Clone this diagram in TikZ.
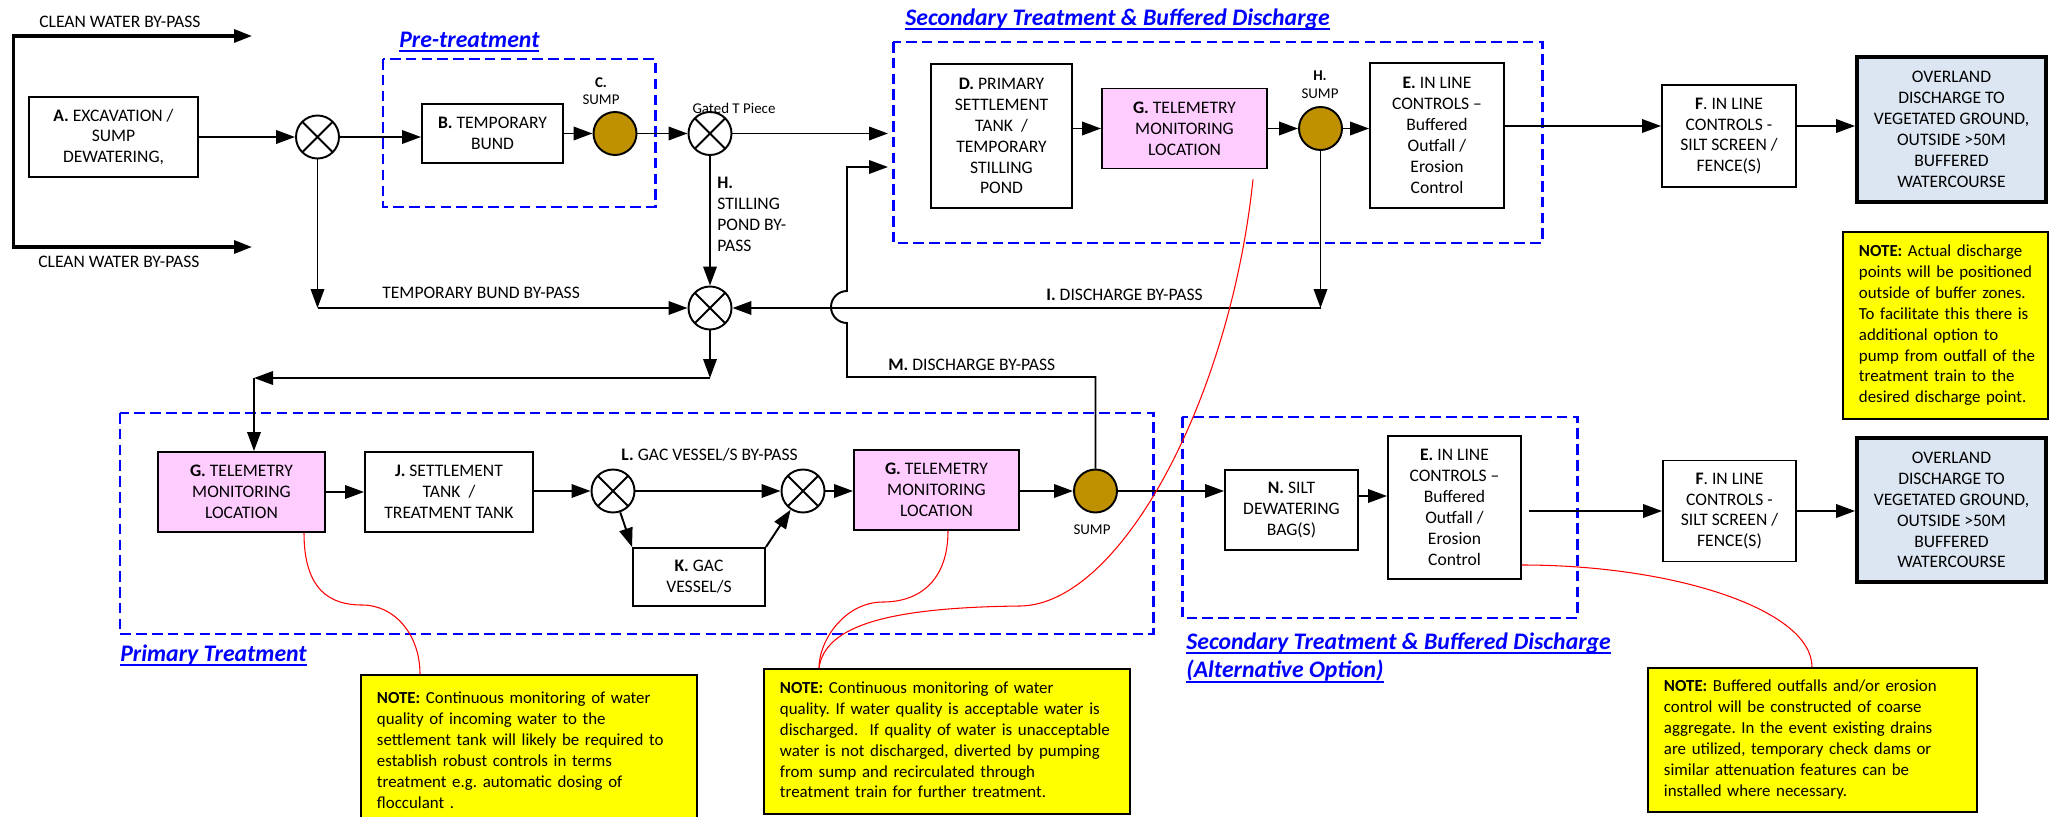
\documentclass[tikz,border=0pt]{standalone}
\usepackage{fontspec}
\setmainfont{Carlito}
\usetikzlibrary{positioning}
\usetikzlibrary{calc}
\usetikzlibrary{arrows.meta}

\definecolor{sumpgold}{RGB}{191,144,0}
\definecolor{telepink}{RGB}{255,204,255}
\definecolor{outfallblue}{RGB}{220,230,242}
\definecolor{noteyellow}{RGB}{255,255,0}
\definecolor{stageblue}{RGB}{0,0,255}

\newcommand{\boxfont}{\fontsize{10}{11.9}\selectfont}
\newcommand{\notefont}{\fontsize{9.6}{11.9}\selectfont}
\newcommand{\tagfont}{\fontsize{8.5}{10}\selectfont}
\newcommand{\stagefont}{\fontsize{13.5}{16.4}\selectfont\bfseries\itshape}
\newlength{\stageulwd}
\newcommand{\stageul}[1]{\settowidth{\stageulwd}{#1}\rlap{\rule[-2.6pt]{\stageulwd}{1pt}}#1}
\frenchspacing

\begin{document}
\begin{tikzpicture}[
        flow/.style={
            -{Triangle[length=3.8mm,width=2.7mm]},
            line width=1.1pt,
        },
        cleanflow/.style={
            {Triangle[length=3.6mm,width=2.6mm]}-{Triangle[length=3.6mm,width=2.6mm]},
            line width=1.8pt,
        },
        unit/.style={
            draw,
            line width=1.1pt,
            align=center,
            inner sep=0pt,
            font=\boxfont,
        },
        telemetry/.style={
            unit,
            fill=telepink,
            minimum height=1.6cm,
        },
        outfall/.style={
            unit,
            fill=outfallblue,
            line width=2.2pt,
            minimum width=3.78cm,
            minimum height=2.9cm,
        },
        mixer/.style={
            draw,
            circle,
            line width=1.1pt,
            minimum size=8.6mm,
            inner sep=0pt,
            path picture={
                \draw[line width=1.1pt]
                    (path picture bounding box.north west) -- (path picture bounding box.south east)
                    (path picture bounding box.north east) -- (path picture bounding box.south west);
            },
        },
        sump/.style={
            draw,
            circle,
            fill=sumpgold,
            line width=1.1pt,
            minimum size=8.6mm,
            inner sep=0pt,
        },
        stage/.style={
            draw=stageblue,
            line width=1.7pt,
            dash pattern=on 6pt off 3pt,
        },
        stagelabel/.style={
            text=stageblue,
            font=\stagefont,
            align=left,
            inner sep=0pt,
            anchor=west,
        },
        note/.style={
            draw,
            fill=noteyellow,
            line width=1.1pt,
            align=left,
            inner xsep=3.2mm,
            inner ysep=0pt,
            anchor=north west,
            font=\notefont,
        },
        tag/.style={
            font=\tagfont,
            inner sep=0pt,
            align=center,
        },
        flowlabel/.style={
            font=\boxfont,
            inner sep=0pt,
            anchor=west,
        },
        callout/.style={
            red,
            line width=0.6pt,
        },
    ]
    \useasboundingbox (0,0) rectangle (40.98,-16.34);

    % Stage frames.
    \draw[stage] (7.66,-1.18) rectangle (13.10,-4.14);
    \draw[stage] (17.86,-0.84) rectangle (30.84,-4.86);
    \draw[stage] (2.40,-8.26) rectangle (23.06,-12.68);
    \draw[stage] (23.64,-8.34) rectangle (31.54,-12.36);

    \node[stagelabel] (pretitle) at (7.98,-0.84) {\stageul{Pre-treatment}};
    \node[stagelabel] (sectitle) at (18.10,-0.38) {\stageul{Secondary Treatment \& Buffered Discharge}};
    \node[stagelabel] (primtitle) at (2.40,-13.10) {\stageul{Primary Treatment}};
    \node[stagelabel] (alttitle) at (23.72,-13.15) {\stageul{Secondary Treatment \& Buffered Discharge}\\\stageul{(Alternative Option)}};

    % Top train.
    \node[unit, minimum width=3.38cm, minimum height=1.6cm] (exc) at (2.27,-2.74)
        {\textbf{A.} EXCAVATION /\\SUMP\\DEWATERING,};
    \node[mixer] (m1) at (6.35,-2.74) {};
    \node[unit, minimum width=2.82cm, minimum height=1.18cm] (bund) at (9.85,-2.67)
        {\textbf{B.} TEMPORARY\\BUND};
    \node[sump] (sumpc) at (12.30,-2.67) {};
    \node[tag] (sumpctag) at (12.02,-1.82) {\textbf{C.}\\SUMP};
    \node[mixer] (m2) at (14.20,-2.67) {};
    \node[tag, anchor=south] (gatetag) at (14.68,-2.28) {Gated T Piece};

    \node[unit, minimum width=2.82cm, minimum height=2.88cm] (pst) at (20.03,-2.72)
        {\textbf{D.} PRIMARY\\SETTLEMENT\\TANK~~/\\TEMPORARY\\STILLING\\POND};
    \node[telemetry, minimum width=3.3cm] (tele3) at (23.69,-2.57)
        {\textbf{G.} TELEMETRY\\MONITORING\\LOCATION};
    \node[sump] (sumph) at (26.41,-2.57) {};
    \node[tag] (sumphtag) at (26.40,-1.69) {\textbf{H.}\\SUMP};
    \node[unit, minimum width=2.68cm, minimum height=2.9cm] (ctrl) at (28.74,-2.71)
        {\textbf{E.} IN LINE\\CONTROLS --\\Buffered\\Outfall /\\Erosion\\Control};
    \node[unit, minimum width=2.68cm, minimum height=2.04cm] (fence) at (34.58,-2.72)
        {\textbf{F}. IN LINE\\CONTROLS -\\SILT SCREEN /\\FENCE(S)};
    \node[outfall] (over) at (39.03,-2.59)
        {OVERLAND\\DISCHARGE TO\\VEGETATED GROUND,\\OUTSIDE >50M\\BUFFERED\\WATERCOURSE};

    \coordinate (cwtop) at (5.04,-0.72);
    \coordinate (cwtopl) at (0.27,-0.72);
    \coordinate (cwbotl) at (0.27,-4.94);
    \coordinate (cwbot) at (5.04,-4.94);
    \coordinate (sin1) at (17.76,-2.67);
    \coordinate (sin2) at (17.76,-3.34);
    \coordinate (outtop) at (30.08,-2.52);

    \draw[cleanflow] (cwtop) -- (cwtopl) -- (cwbotl) -- (cwbot);
    \node[flowlabel] (cwlabel1) at (0.78,-0.44) {CLEAN WATER BY-PASS};
    \node[flowlabel] (cwlabel2) at (0.76,-5.24) {CLEAN WATER BY-PASS};

    \draw[flow] (exc) -- (m1);
    \draw[flow] (m1) -- (bund.west |- m1);
    \draw[flow] (bund) -- (sumpc);
    \draw[flow] (sumpc) -- (m2);
    \draw[flow] (m2) -- (sin1);
    \draw[flow] (pst.east |- tele3) -- (tele3);
    \draw[flow] (tele3) -- (sumph);
    \draw[flow] (sumph) -- (ctrl.west |- sumph);
    \draw[flow] (outtop) -- (fence.west |- outtop);
    \draw[flow] (fence.east |- outtop) -- (over.west |- outtop);

    % By-pass junction.
    \node[mixer] (m3) at (14.20,-6.16) {};
    \coordinate (tbp) at (m1 |- m3);
    \coordinate (ibp) at (sumph |- m3);
    \coordinate (m3out) at (14.20,-7.56);
    \coordinate (pturn) at (5.08,-7.56);

    \draw[flow] (m1) -- (tbp);
    \draw[flow] (tbp) -- (m3);
    \draw[flow] (m2) -- (m3);
    \draw[flow] (sumph) -- (ibp);
    \draw[flow] (ibp) -- (m3);
    \draw[flow] (m3) -- (m3out);
    \draw[flow] (m3out) -- (pturn);

    \node[flowlabel] (tblabel) at (7.64,-5.86) {TEMPORARY BUND BY-PASS};
    \node[flowlabel] (ilabel) at (20.92,-5.90) {\textbf{I.} DISCHARGE BY-PASS};
    \node[flowlabel, anchor=north west, align=left] (hlabel) at (14.34,-3.54)
        {\textbf{H.}\\STILLING\\POND BY-\\PASS};

    % Primary train.
    \node[telemetry, minimum width=3.34cm] (tele1) at (4.83,-9.84)
        {\textbf{G.} TELEMETRY\\MONITORING\\LOCATION};
    \node[unit, minimum width=3.36cm, minimum height=1.6cm] (settle) at (8.98,-9.84)
        {\textbf{J.} SETTLEMENT\\TANK~~/\\TREATMENT TANK};
    \node[mixer] (ml1) at (12.26,-9.82) {};
    \node[mixer] (ml2) at (16.06,-9.82) {};
    \node[unit, minimum width=2.64cm, minimum height=1.16cm] (gac) at (13.98,-11.54)
        {\textbf{K.} GAC\\VESSEL/S};
    \node[telemetry, minimum width=3.3cm] (tele2) at (18.73,-9.80)
        {\textbf{G.} TELEMETRY\\MONITORING\\LOCATION};
    \node[sump] (sumpp) at (21.91,-9.82) {};
    \node[tag] (sumpptag) at (21.84,-10.60) {SUMP};
    \node[flowlabel] (llabel) at (12.42,-9.10) {\textbf{L.} GAC VESSEL/S BY-PASS};

    \draw[flow] (pturn) -- (pturn |- tele1.north);
    \draw[flow] (tele1) -- (settle);
    \draw[flow] (settle.east |- ml1) -- (ml1);
    \draw[flow] (ml1) -- (ml2);
    \draw[flow] (ml1) -- (gac.north west);
    \draw[flow] (gac.north east) -- (ml2);
    \draw[flow] (ml2) -- (tele2.west |- ml2);
    \draw[flow] (tele2.east |- sumpp) -- (sumpp);

    % Discharge by-pass back to secondary treatment.
    \coordinate (mturn) at (16.94,-7.54);
    \coordinate (mhop) at (16.94,-6.46);
    \draw[flow] (sumpp) |- (mturn) -- (mhop)
        arc[start angle=-90, end angle=-270, radius=0.32] -- (mturn |- sin2) -- (sin2);
    \node[flowlabel] (mlabel) at (17.76,-7.30) {\textbf{M.} DISCHARGE BY-PASS};

    % Alternative secondary train.
    \node[unit, minimum width=2.66cm, minimum height=1.6cm] (silt) at (25.83,-10.20)
        {\textbf{N.} SILT\\DEWATERING\\BAG(S)};
    \node[unit, minimum width=2.66cm, minimum height=2.86cm] (ctrl2) at (29.09,-10.15)
        {\textbf{E.} IN LINE\\CONTROLS --\\Buffered\\Outfall /\\Erosion\\Control};
    \node[unit, minimum width=2.66cm, minimum height=2.02cm] (fence2) at (34.59,-10.22)
        {\textbf{F}. IN LINE\\CONTROLS -\\SILT SCREEN /\\FENCE(S)};
    \node[outfall, minimum height=2.88cm] (over2) at (39.03,-10.20)
        {OVERLAND\\DISCHARGE TO\\VEGETATED GROUND,\\OUTSIDE >50M\\BUFFERED\\WATERCOURSE};

    \draw[flow] (sumpp) -- (silt.west |- sumpp);
    \draw[flow] ($(silt.east)+(0,0.28)$) -- ($(ctrl2.west)+(0,0.23)$);
    \draw[flow, shorten <=1.4mm] (ctrl2.east |- fence2) -- (fence2.west);
    \draw[flow] (fence2.east) -- (over2.west |- fence2);

    % Notes.
    \node[note, text width=3.46cm, minimum height=3.74cm] (note1) at (36.84,-4.62)
        {\begin{tabular}{@{}l@{}}\textbf{NOTE:} Actual discharge\\points will be positioned\\outside of buffer zones.\\To facilitate this there is\\additional option to\\pump from outfall of the\\treatment train to the\\desired discharge point.\end{tabular}};
    \node[note, text width=6.08cm, minimum height=3.08cm] (note2) at (7.20,-13.48)
        {\begin{tabular}{@{}l@{}}\textbf{NOTE:} Continuous monitoring of water\\quality of incoming water to the\\settlement tank will likely be required to\\establish robust controls in terms\\treatment e.g. automatic dosing of\\flocculant .\end{tabular}};
    \node[note, text width=6.68cm, minimum height=2.90cm] (note3) at (15.26,-13.36)
        {\begin{tabular}{@{}l@{}}\textbf{NOTE:} Continuous monitoring of water\\quality. If water quality is acceptable water is\\discharged.~ If quality of water is unacceptable\\water is not discharged, diverted by pumping\\from sump and recirculated through\\treatment train for further treatment.\end{tabular}};
    \node[note, text width=5.94cm, minimum height=2.88cm] (note4) at (32.94,-13.34)
        {\begin{tabular}{@{}l@{}}\textbf{NOTE:} Buffered outfalls and/or erosion\\control will be constructed of coarse\\aggregate. In the event existing drains\\are utilized, temporary check dams or\\similar attenuation features can be\\installed where necessary.\end{tabular}};

    % Callouts.
    \draw[callout] ($(tele1.south)+(1.25,0)$)
        .. controls (6.08,-11.8) and (6.6,-12.1) .. (7.24,-12.10)
        .. controls (7.9,-12.1) and (8.40,-12.7) .. ($(note2.north west)+(1.20,0)$);
    \draw[callout] ($(tele2.south)+(0.23,0)$)
        .. controls (18.96,-11.6) and (18.4,-12.04) .. (17.66,-12.04)
        .. controls (16.9,-12.04) and (16.38,-12.8) .. ($(note3.north west)+(1.12,0)$);
    \draw[callout] ($(tele3.south)+(1.37,-0.2)$)
        .. controls (24.6,-8) and (22.4,-12.1) .. (20.4,-12.12)
        .. controls (17.8,-12.15) and (16.5,-12.5) .. ($(note3.north west)+(1.12,0)$);
    \draw[callout] ($(ctrl2.east)+(0,-1.15)$)
        .. controls (33.5,-11.3) and (36.24,-12.2) .. ($(note4.north west)+(3.30,0)$);

\end{tikzpicture}
\end{document}
